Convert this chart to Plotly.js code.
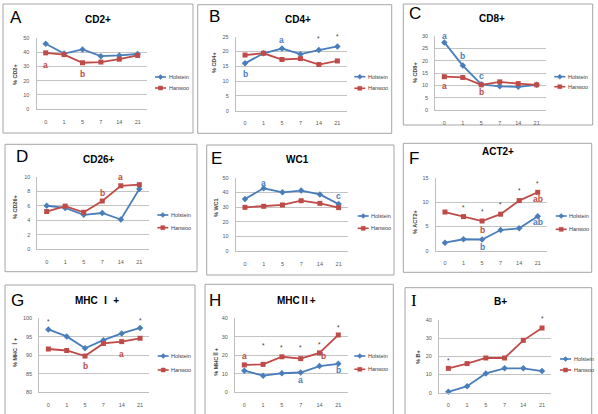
<!DOCTYPE html>
<html>
<head>
<meta charset="utf-8">
<script src="https://cdn.plot.ly/plotly-3.0.1.min.js"></script>
<style>
  html, body { margin: 0; padding: 0; background: #ffffff; }
  #chart { width: 598px; height: 414px; }
</style>
</head>
<body>
<div id="chart"></div>
<script>
// Days after treatment (category axis shared by all nine panels)
const days = ['0', '1', '5', '7', '14', '21'];
const breeds = ['Holstein', 'Hanwoo'];

// Percent positive cells per marker, by breed
const cd2Holstein  = [45.8, 38.9, 41.8, 37.1, 37.6, 38.6];
const cd2Hanwoo    = [39.4, 38.2, 32.5, 33.0, 35.0, 37.6];
const cd4Holstein  = [16.0, 19.4, 21.0, 19.1, 20.5, 21.7];
const cd4Hanwoo    = [18.8, 19.4, 17.3, 17.6, 15.6, 16.8];
const cd8Holstein  = [27.4, 18.0, 10.4, 9.6, 9.4, 10.2];
const cd8Hanwoo    = [13.5, 13.2, 10.2, 11.4, 10.7, 10.2];
const cd26Holstein = [6.0, 5.7, 4.75, 5.0, 4.1, 8.3];
const cd26Hanwoo   = [5.2, 5.95, 5.1, 6.65, 8.75, 8.9];
const wc1Holstein  = [35.5, 42.8, 40.0, 41.2, 38.6, 32.0];
const wc1Hanwoo    = [29.8, 30.5, 31.4, 34.3, 32.5, 29.6];
const act2Holstein = [1.65, 2.35, 2.3, 4.25, 4.6, 7.1];
const act2Hanwoo   = [7.95, 7.0, 6.1, 7.5, 10.3, 12.0];
const mhc1Holstein = [97.0, 95.1, 91.9, 94.1, 95.9, 97.4];
const mhc1Hanwoo   = [91.7, 91.3, 89.8, 93.2, 93.7, 94.6];
const mhc2Holstein = [11.7, 9.0, 10.3, 10.7, 14.2, 15.4];
const mhc2Hanwoo   = [14.8, 15.1, 19.2, 18.2, 21.3, 31.0];
const bHolstein    = [0.5, 3.6, 10.6, 13.4, 13.4, 11.9];
const bHanwoo      = [13.4, 16.0, 19.1, 19.1, 28.8, 35.6];

// Significance marks: [day, y value, text, group]  (group: 0 Holstein, 1 Hanwoo, 2 between breeds)
const cd2Marks  = [['0', 31, 'a', 1], ['5', 25, 'b', 1]];
const cd4Marks  = [['0', 12.4, 'b', 0], ['5', 23.8, 'a', 0], ['14', 24.4, '*', 2], ['21', 25.2, '*', 2]];
const cd8Marks  = [['0', 30.2, 'a', 0], ['1', 22, 'b', 0], ['5', 13.6, 'c', 0], ['0', 9.6, 'a', 1], ['5', 7.2, 'b', 1]];
const cd26Marks = [['7', 7.8, 'b', 1], ['14', 10.0, 'a', 1]];
const wc1Marks  = [['1', 46.5, 'a', 0], ['21', 37.5, 'c', 0]];
const act2Marks = [['1', 8.8, '*', 2], ['5', 8.0, '*', 2], ['7', 9.4, '*', 2], ['14', 12.4, '*', 2], ['21', 13.8, '*', 2],
                   ['5', 4.3, 'b', 1], ['21', 10.7, 'ab', 1], ['5', 0.8, 'b', 0], ['21', 5.8, 'ab', 0]];
const mhc1Marks = [['0', 99.2, '*', 2], ['21', 99.4, '*', 2], ['5', 87.2, 'b', 1], ['14', 90.4, 'a', 1]];
const mhc2Marks = [['0', 19.6, 'a', 1], ['1', 25.3, '*', 2], ['5', 24.2, '*', 2], ['7', 24.2, '*', 2], ['14', 25.8, '*', 2],
                   ['21', 35.2, '*', 2], ['14', 19.6, 'b', 1], ['7', 6.6, 'a', 0], ['21', 12.3, 'b', 0]];
const bMarks    = [['0', 17.6, '*', 2], ['21', 40.6, '*', 2]];

const W = 598, H = 414;
const BLUE = '#4a7ebb', RED = '#be4b48', STAR = '#404040';
const markColor = [BLUE, RED, STAR];
const fx = p => p / W;
const fy = p => 1 - p / H;

// Panel geometry in pixels: plot = [left, right, top, bottom], box = [x0, y0, x1, y1]
const panels = [
  { hol: cd2Holstein, han: cd2Hanwoo, marks: cd2Marks, title: 'CD2+', ytitle: '% CD2+', letter: 'A',
    range: [0, 50], dtick: 10, plot: [36.5, 146.9, 37.7, 109.3], box: [3, 4, 193, 133],
    titleXY: [98, 20], letterXY: [8, 17.5], ytXY: [15, 75], leg: [155, 77, 88] },
  { hol: cd4Holstein, han: cd4Hanwoo, marks: cd4Marks, title: 'CD4+', ytitle: '% CD4+', letter: 'B',
    range: [0, 25], dtick: 5, plot: [235.8, 346.6, 36.7, 110.7], box: [197.7, 4.7, 391.7, 133.3],
    titleXY: [298, 19.5], letterXY: [207, 16.7], ytXY: [214, 63], leg: [354.3, 76.7, 88.3] },
  { hol: cd8Holstein, han: cd8Hanwoo, marks: cd8Marks, title: 'CD8+', ytitle: '% CD8+', letter: 'C',
    range: [0, 30], dtick: 5, plot: [435.1, 545.9, 36, 110], box: [403.3, 4, 592.7, 125],
    titleXY: [491.7, 18.3], letterXY: [407, 13.3], ytXY: [415, 73], leg: [554.3, 76.7, 86.7] },
  { hol: cd26Holstein, han: cd26Hanwoo, marks: cd26Marks, title: 'CD26+', ytitle: '% CD26+', letter: 'D',
    range: [0, 10], dtick: 2, plot: [37.4, 148.6, 176.7, 249.3], box: [5, 144.3, 197, 271.7],
    titleXY: [99, 160], letterXY: [14, 156.7], ytXY: [15, 207], leg: [157.3, 215, 227.7] },
  { hol: wc1Holstein, han: wc1Hanwoo, marks: wc1Marks, title: 'WC1', ytitle: '% WC1', letter: 'E',
    range: [0, 50], dtick: 10, plot: [235.6, 348, 177.7, 251], box: [206.7, 145, 394, 275],
    titleXY: [297, 160], letterXY: [209, 158.3], ytXY: [216, 208], leg: [357.7, 216, 228.3] },
  { hol: act2Holstein, han: act2Hanwoo, marks: act2Marks, title: 'ACT2+', ytitle: '% ACT2+', letter: 'F',
    range: [0, 15], dtick: 5, plot: [435.7, 547, 177.7, 250.7], box: [403.3, 143.3, 591.7, 272.3],
    titleXY: [498, 151.7], letterXY: [407, 158.3], ytXY: [415, 222], leg: [555.7, 216, 229.3] },
  { hol: mhc1Holstein, han: mhc1Hanwoo, marks: mhc1Marks, title: 'MHC Ⅰ +', ytitle: '% MHC Ⅰ+', letter: 'G',
    range: [80, 100], dtick: 5, plot: [39.2, 149.2, 318.3, 392.3], box: [5, 285, 195, 420],
    titleXY: [96.7, 300], letterXY: [9, 300], ytXY: [15, 353], leg: [157.7, 356, 370] },
  { hol: mhc2Holstein, han: mhc2Hanwoo, marks: mhc2Marks, title: 'MHCⅡ+', ytitle: '% MHCⅡ+', letter: 'H',
    range: [0, 40], dtick: 10, plot: [234.9, 347.7, 318.3, 392.3], box: [205, 284.3, 393.3, 420],
    titleXY: [296.7, 300], letterXY: [207, 300], ytXY: [215.7, 362], leg: [354.3, 356, 369.3] },
  { hol: bHolstein, han: bHanwoo, marks: bMarks, title: 'B+', ytitle: '% B+', letter: 'I',
    range: [0, 40], dtick: 10, plot: [439, 551.4, 320, 392.7], box: [405, 287.7, 591.7, 420],
    titleXY: [500.8, 301.7], letterXY: [409, 300], ytXY: [418, 357], leg: [560, 359, 370] }
];

const FONT = 'Liberation Sans, Arial, Noto Sans CJK KR, sans-serif';
const traces = [];
const layout = {
  width: W, height: H,
  margin: { l: 0, r: 0, t: 0, b: 0 },
  paper_bgcolor: '#ffffff', plot_bgcolor: '#ffffff',
  showlegend: false,
  font: { family: FONT, color: '#595959', size: 6 },
  annotations: [], shapes: []
};

panels.forEach((p, i) => {
  const n = i === 0 ? '' : String(i + 1);
  const xa = 'x' + n, ya = 'y' + n;
  const [l, r, t, b] = p.plot;

  layout['xaxis' + n] = {
    domain: [fx(l), fx(r)], anchor: ya, type: 'category', range: [-0.5, 5.5],
    showgrid: false, zeroline: false, showline: true, linecolor: '#bfbfbf', linewidth: 1,
    ticks: '', ticklabelstandoff: 7, tickfont: { size: 5.5, color: '#595959' }, fixedrange: true
  };
  layout['yaxis' + n] = {
    domain: [fy(b), fy(t)], anchor: xa, range: p.range, dtick: p.dtick, tick0: p.range[0],
    showgrid: true, gridcolor: '#c4c4c4', gridwidth: 1, zeroline: false,
    showline: true, linecolor: '#bfbfbf', linewidth: 1,
    ticks: '', ticklabelstandoff: 5, tickfont: { size: 5.5, color: '#595959' }, fixedrange: true
  };

  traces.push({
    x: days, y: p.hol, name: breeds[0], xaxis: xa, yaxis: ya, type: 'scatter', mode: 'lines+markers',
    line: { color: BLUE, width: 1.8 }, marker: { symbol: 'diamond', size: 5, color: BLUE }, cliponaxis: false
  });
  traces.push({
    x: days, y: p.han, name: breeds[1], xaxis: xa, yaxis: ya, type: 'scatter', mode: 'lines+markers',
    line: { color: RED, width: 1.8 }, marker: { symbol: 'square', size: 5, color: RED }, cliponaxis: false
  });

  // Panel frame
  layout.shapes.push({
    type: 'rect', xref: 'paper', yref: 'paper',
    x0: fx(p.box[0]), x1: fx(p.box[2]), y0: fy(p.box[3]), y1: fy(p.box[1]),
    line: { color: '#a6a6a6', width: 1 }, fillcolor: 'rgba(0,0,0,0)', layer: 'below'
  });

  // Panel letter
  layout.annotations.push({
    xref: 'paper', yref: 'paper', x: fx(p.letterXY[0]), y: fy(p.letterXY[1]),
    xanchor: 'left', yanchor: 'middle', showarrow: false, text: p.letter,
    font: { family: p.letter === 'I' ? 'Liberation Serif, serif' : FONT, size: 17, color: '#000000' }
  });
  // Panel title
  layout.annotations.push({
    xref: 'paper', yref: 'paper', x: fx(p.titleXY[0]), y: fy(p.titleXY[1]),
    xanchor: 'center', yanchor: 'middle', showarrow: false, text: '<b>' + p.title + '</b>',
    font: { family: FONT, size: 10, color: '#000000' }
  });
  // Y-axis title
  layout.annotations.push({
    xref: 'paper', yref: 'paper', x: fx(p.ytXY[0]), y: fy(p.ytXY[1]),
    xanchor: 'center', yanchor: 'middle', showarrow: false, textangle: -90, text: '<b>' + p.ytitle + '</b>',
    font: { family: FONT, size: 5.5, color: '#404040' }
  });

  // Legend: short line with marker, then the breed name
  const [lx, ly1, ly2] = p.leg;
  [[ly1, BLUE, 0], [ly2, RED, 1]].forEach(([ly, c, k]) => {
    layout.shapes.push({
      type: 'line', xref: 'paper', yref: 'paper',
      x0: fx(lx), x1: fx(lx + 11), y0: fy(ly), y1: fy(ly), line: { color: c, width: 1.6 }
    });
    const cx = lx + 5.5;
    if (k === 0) {
      layout.shapes.push({
        type: 'path', xref: 'paper', yref: 'paper', fillcolor: c, line: { color: c, width: 0.5 },
        path: `M ${fx(cx)} ${fy(ly - 2.5)} L ${fx(cx + 2.5)} ${fy(ly)} L ${fx(cx)} ${fy(ly + 2.5)} L ${fx(cx - 2.5)} ${fy(ly)} Z`
      });
    } else {
      layout.shapes.push({
        type: 'rect', xref: 'paper', yref: 'paper', fillcolor: c, line: { color: c, width: 0.5 },
        x0: fx(cx - 2), x1: fx(cx + 2), y0: fy(ly + 2), y1: fy(ly - 2)
      });
    }
    layout.annotations.push({
      xref: 'paper', yref: 'paper', x: fx(lx + 11.5), y: fy(ly),
      xanchor: 'left', yanchor: 'middle', showarrow: false, text: breeds[k],
      font: { family: FONT, size: 5.5, color: '#404040' }
    });
  });

  // Significance letters and asterisks, placed at the category index of their day.
  // Marks above the axis maximum are pinned to the top and lifted by the pixel excess,
  // since Plotly hides annotations lying outside the axis range.
  const pxPerUnit = (b - t) / (p.range[1] - p.range[0]);
  p.marks.forEach(([d, v, txt, g]) => {
    const star = g === 2;
    const over = Math.max(0, v - p.range[1]);
    layout.annotations.push({
      xref: xa, yref: ya, x: days.indexOf(d), y: v - over, showarrow: false, xanchor: 'center', yanchor: 'middle',
      xshift: (p.letter === 'H' && txt === 'b' && g === 1) ? 4 : 0,
      yshift: over * pxPerUnit,
      text: star ? txt : '<b>' + txt + '</b>',
      font: { family: FONT, size: star ? 6.5 : 8.5, color: markColor[g] }
    });
  });
});

Plotly.newPlot('chart', traces, layout, { staticPlot: true, displayModeBar: false });
</script>
</body>
</html>
